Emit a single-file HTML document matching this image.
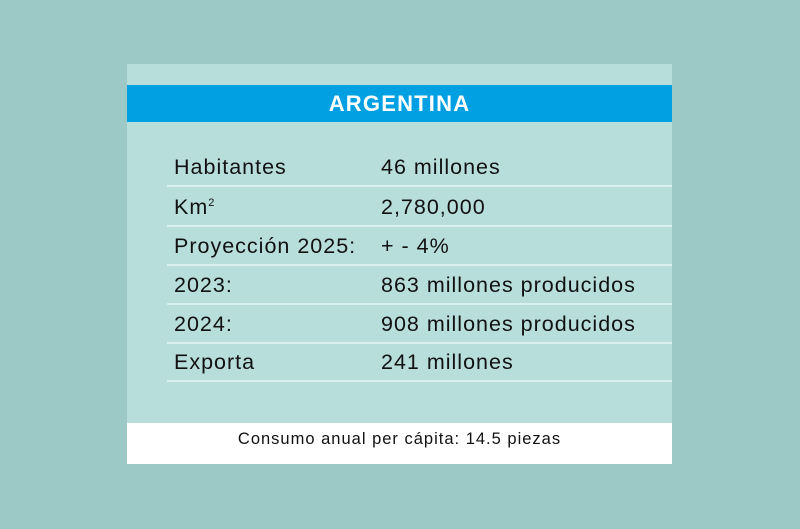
<!DOCTYPE html>
<html><head><meta charset="utf-8"><style>
body{margin:0;width:800px;height:529px;background:#9cc9c6;position:relative;overflow:hidden;font-family:"Liberation Sans",sans-serif}
.card{position:absolute;left:127px;top:64px;width:545px;height:400px;background:#b8dedb}
.band{position:absolute;left:0;top:21px;width:545px;height:37px;background:#00a0e3;color:#fff;font-weight:bold;font-size:22px;letter-spacing:1.2px;text-align:center;line-height:38px}
.row{position:absolute;left:40px;width:505px;height:38px;border-bottom:2px solid #daf0ee;font-size:21.5px;letter-spacing:1px;color:#111}
.row span{position:absolute;top:8px}
.l{left:7px}.v{left:214px}
.foot{position:absolute;left:0;top:359px;width:545px;height:41px;background:#fff;text-align:center;font-size:16.5px;letter-spacing:1px;line-height:32px;color:#111}
</style></head><body>
<div class="card">
<div class="band">ARGENTINA</div>
<div class="row" style="top:83px"><span class="l">Habitantes</span><span class="v">46 millones</span></div>
<div class="row" style="top:123px"><span class="l">Km<sup style="font-size:11px">2</sup></span><span class="v">2,780,000</span></div>
<div class="row" style="top:162px"><span class="l">Proyección 2025:</span><span class="v">+ - 4%</span></div>
<div class="row" style="top:201px"><span class="l">2023:</span><span class="v">863 millones producidos</span></div>
<div class="row" style="top:240px"><span class="l">2024:</span><span class="v">908 millones producidos</span></div>
<div class="row" style="top:278px"><span class="l">Exporta</span><span class="v">241 millones</span></div>
<div class="foot">Consumo anual per cápita: 14.5 piezas</div>
</div>
</body></html>
